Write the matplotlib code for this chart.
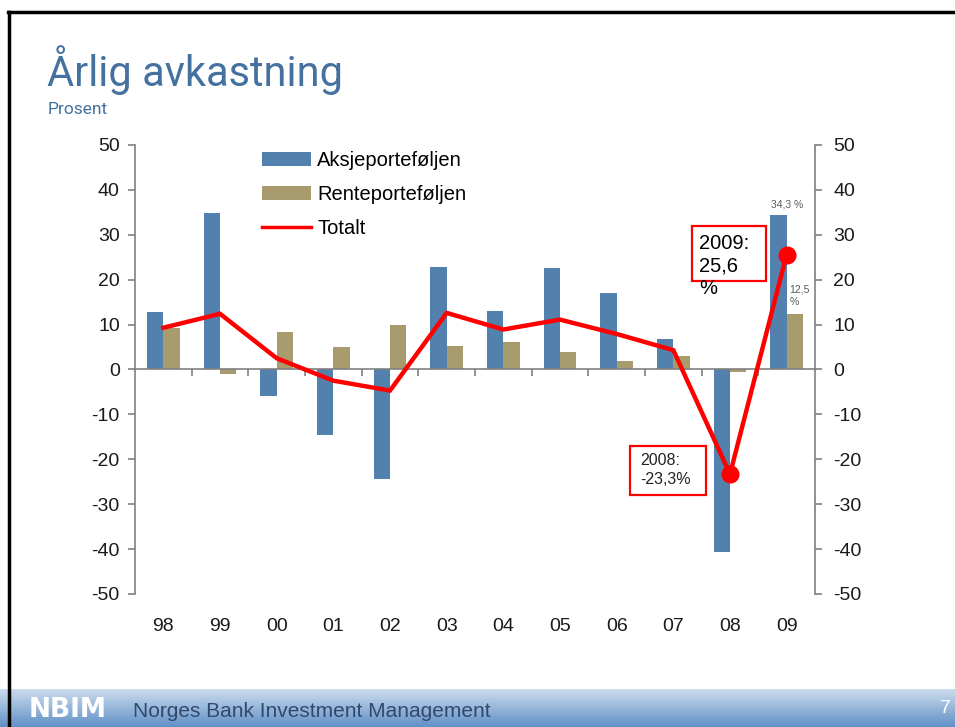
"""NBIM slide: annual return of the fund (equity, fixed income, total) 1998-2009."""

import matplotlib.pyplot as plt
import numpy as np
from matplotlib.lines import Line2D
from matplotlib.patches import Rectangle

YEARS = ["98", "99", "00", "01", "02", "03", "04", "05", "06", "07", "08", "09"]
EQUITY = [12.8, 34.8, -5.8, -14.6, -24.4, 22.8, 13.0, 22.5, 17.0, 6.8, -40.7, 34.3]
FIXED = [9.3, -1.0, 8.4, 5.0, 9.9, 5.3, 6.1, 3.8, 1.9, 2.9, -0.5, 12.3]
TOTAL = [9.3, 12.4, 2.5, -2.5, -4.7, 12.6, 8.9, 11.1, 7.9, 4.3, -23.3, 25.6]
LABELS = ["Aksjeporteføljen", "Renteporteføljen", "Totalt"]

BLUE = "#5381AE"
TAN = "#A89B6D"
RED = "#FF0000"
GREY = "#808080"

plt.rcParams['font.family'] = ['Liberation Sans', 'DejaVu Sans']
plt.rcParams['axes.unicode_minus'] = False


def main():
    fig = plt.figure(figsize=(9.55, 7.27), dpi=100)
    fig.patch.set_facecolor("white")

    ax = fig.add_axes([0.1414, 0.183, 0.712, 0.6176])
    x = np.arange(len(YEARS))
    w = 0.29
    b1 = ax.bar(x - w / 2, EQUITY, w, color=BLUE, label=LABELS[0], zorder=2)
    b2 = ax.bar(x + w / 2, FIXED, w, color=TAN, label=LABELS[1], zorder=2)
    ln, = ax.plot(x, TOTAL, color=RED, lw=3.2, label=LABELS[2], zorder=3,
                  solid_joinstyle='miter')
    ax.plot(x[-2:], TOTAL[-2:], 'o', color=RED, ms=12, zorder=4)

    ax.set_xlim(-0.5, len(YEARS) - 0.5)
    ax.set_ylim(-50, 50)
    ax.set_yticks(range(-50, 51, 10))

    # zero line with category boundary ticks
    ax.spines['bottom'].set_position(('data', 0))
    ax.spines['bottom'].set_color(GREY)
    ax.spines['bottom'].set_linewidth(1.2)
    ax.spines['top'].set_visible(False)
    ax.spines['right'].set_visible(False)
    ax.spines['left'].set_color(GREY)
    ax.spines['left'].set_linewidth(1.2)
    ax.set_xticks(np.arange(0.5, len(YEARS) - 0.5, 1))
    ax.tick_params(axis='x', length=5, width=1.2, color=GREY, labelbottom=False)
    ax.tick_params(axis='y', length=5, width=1.2, color=GREY, labelsize=14,
                   labelcolor="#1a1a1a", pad=6)

    secx = ax.secondary_xaxis(0.0)
    secx.set_xticks(x, YEARS)
    secx.spines['bottom'].set_visible(False)
    secx.tick_params(length=0, pad=17, labelsize=14, labelcolor="#1a1a1a")

    ax2 = ax.twinx()
    ax2.set_ylim(-50, 50)
    ax2.set_yticks(range(-50, 51, 10))
    for s in ['top', 'bottom', 'left']:
        ax2.spines[s].set_visible(False)
    ax2.spines['right'].set_color(GREY)
    ax2.spines['right'].set_linewidth(1.2)
    ax2.tick_params(axis='y', length=5, width=1.2, color=GREY, labelsize=14,
                    labelcolor="#1a1a1a", pad=8)

    leg = ax.legend([b1, b2, ln], LABELS, loc='upper left',
                    bbox_to_anchor=(262 / 955, 1 - 151 / 727),
                    bbox_transform=fig.transFigure, frameon=False, fontsize=14.5,
                    handlelength=2.45, handleheight=0.7, handletextpad=0.3,
                    labelspacing=0.74, borderpad=0, borderaxespad=0)
    leg.get_lines()[0].set_linewidth(2.5)

    # value labels and callouts
    ax.text(x[-1], EQUITY[-1] + 1.3, "34,3 %", ha='center', va='bottom',
            fontsize=7.5, color="#595959")
    ax.text(x[-1] + 0.05, FIXED[-1] + 1.6, "12,5\n%", ha='left', va='bottom',
            fontsize=7.5, color="#595959", linespacing=1.3)

    fig.add_artist(Rectangle((692 / 955, 1 - 281 / 727), 74 / 955, 55 / 727,
                             fill=False, ec=RED, lw=1.6))
    fig.text(699 / 955, 1 - 234 / 727, "2009:\n25,6\n%", ha='left', va='top',
             fontsize=14.5, color="black", linespacing=1.25)

    fig.add_artist(Rectangle((630 / 955, 1 - 495 / 727), 76 / 955, 49 / 727,
                             fill=False, ec=RED, lw=1.6))
    fig.text(640 / 955, 1 - 453 / 727, "2008:\n-23,3%", ha='left', va='top',
             fontsize=11.5, color="#222222", linespacing=1.35)

    # title
    fig.text(47 / 955, 1 - 86 / 727, "Årlig avkastning", ha='left', va='baseline',
             fontsize=30, color="#44719F", family=['Roboto', 'DejaVu Sans'])
    fig.text(48 / 955, 1 - 114 / 727, "Prosent", ha='left', va='baseline',
             fontsize=12.5, color="#44719F", family=['Roboto', 'DejaVu Sans'])

    # bottom banner with gradient
    bax = fig.add_axes([0, 0, 1, 38 / 727])
    grad = np.linspace(0, 1, 64).reshape(-1, 1)
    top = np.array([0.80, 0.86, 0.93])
    bot = np.array([0.38, 0.57, 0.78])
    img = top + (bot - top) * grad[:, :, None]
    bax.imshow(img, aspect='auto', extent=[0, 1, 0, 1], origin='upper')
    bax.set_axis_off()
    fig.text(29 / 955, 10 / 727, "NBIM", ha='left', va='baseline', fontsize=19,
             fontweight='bold', color="white", family=['DejaVu Sans'])
    fig.text(133 / 955, 10 / 727, "Norges Bank Investment Management", ha='left',
             va='baseline', fontsize=15, color="#33496B")
    fig.text(940 / 955, 14 / 727, "7", ha='left', va='baseline', fontsize=14,
             color="white")

    # slide border
    fig.add_artist(Line2D([8 / 955, 1], [1 - 12 / 727, 1 - 12 / 727],
                          color="black", lw=2.5))
    fig.add_artist(Line2D([9 / 955, 9 / 955], [0, 1 - 12 / 727],
                          color="black", lw=2.5))

    fig.savefig("out.png", dpi=100)


if __name__ == '__main__':
    main()
